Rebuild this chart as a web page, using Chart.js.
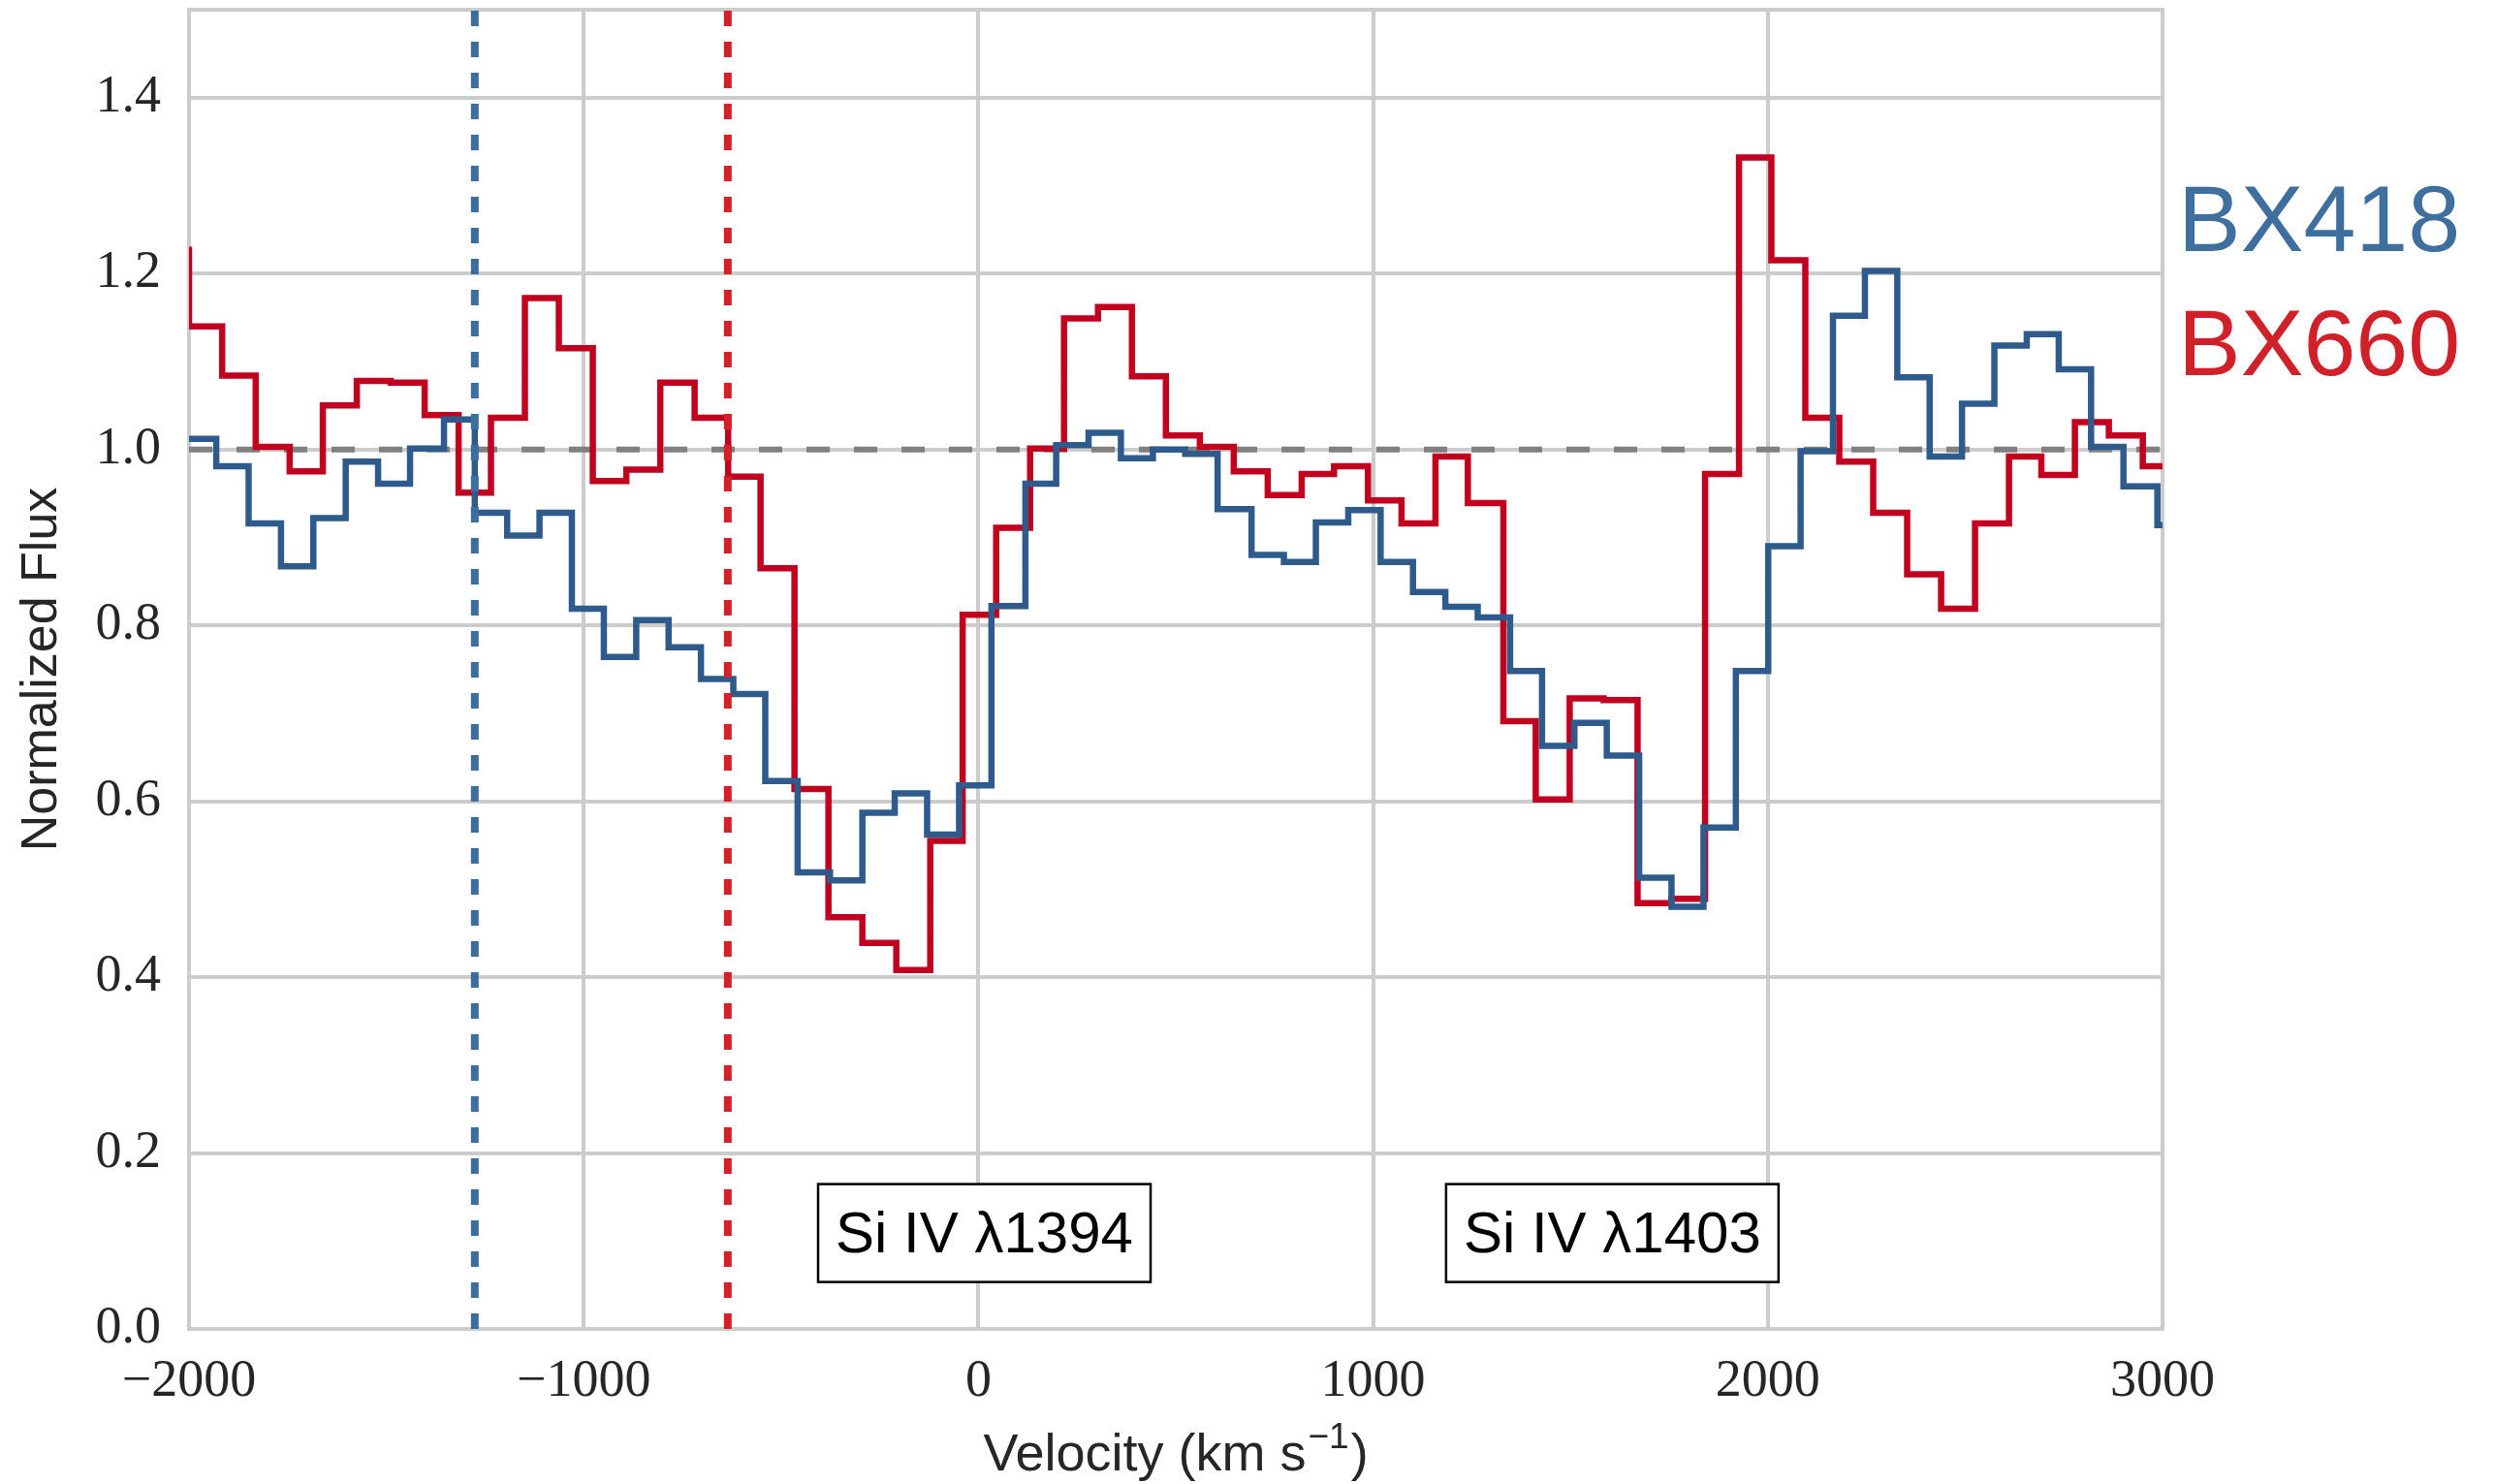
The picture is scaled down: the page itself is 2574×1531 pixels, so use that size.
<!DOCTYPE html>
<html>
<head>
<meta charset="utf-8">
<script src="https://cdn.jsdelivr.net/npm/chart.js@4.4.0/dist/chart.umd.min.js"></script>
<style>
  html, body { margin: 0; padding: 0; background: #fff; }
</style>
</head>
<body>
<canvas id="fluxChart" width="2574" height="1531"></canvas>
<script>
// ----------- DATA -----------
const xTicks = [-2000, -1000, 0, 1000, 2000, 3000];
const yTicks = [0, 0.2, 0.4, 0.6, 0.8, 1.0, 1.2, 1.4];
const seriesNames = ['BX418', 'BX660'];

// bin left edges (km/s), last entry is the right edge of the final bin
const bx418Edges = [-2013, -1931, -1849, -1767, -1685, -1603, -1521, -1440, -1354, -1276, -1194, -1112, -1030,
  -949, -867, -785, -703, -621, -540, -458, -376, -294, -212, -130, -49,
  33, 119, 197, 279, 361, 442, 524, 606, 692, 774, 855, 937,
  1019, 1101, 1183, 1265, 1347, 1428, 1510, 1592, 1674, 1756, 1837, 1919, 2001,
  2083, 2165, 2246, 2328, 2410, 2492, 2574, 2656, 2737, 2819, 2901, 2987, 3069];
const bx418Flux = [1.012, 0.981, 0.916, 0.867, 0.922, 0.986, 0.961, 1.001, 1.034, 0.928, 0.902, 0.928, 0.819,
  0.764, 0.806, 0.775, 0.739, 0.722, 0.623, 0.519, 0.510, 0.587, 0.609, 0.562, 0.618,
  0.822, 0.961, 1.005, 1.019, 0.990, 1.000, 0.995, 0.932, 0.880, 0.872, 0.917, 0.931,
  0.872, 0.838, 0.821, 0.809, 0.748, 0.663, 0.689, 0.652, 0.513, 0.480, 0.570, 0.748, 0.890,
  0.998, 1.152, 1.203, 1.082, 0.992, 1.052, 1.118, 1.131, 1.091, 1.003, 0.958, 0.914];

const bx660Edges = [-2086, -2000, -1916, -1831, -1745, -1661, -1575, -1489, -1403, -1317, -1235, -1149, -1063,
  -977, -892, -806, -719, -634, -552, -466, -380, -294, -208, -122, -40,
  45, 131, 217, 303, 389, 475, 561, 647, 733, 819, 901,
  987, 1072, 1158, 1240, 1330, 1412, 1498, 1584, 1670, 1756, 1841, 1927,
  2009, 2095, 2181, 2267, 2353, 2439, 2525, 2611, 2693, 2778, 2864, 2950, 3036];
const bx660Flux = [1.227, 1.140, 1.084, 1.003, 0.975, 1.050, 1.078, 1.076, 1.039, 0.951, 1.036, 1.172, 1.115,
  0.964, 0.977, 1.076, 1.036, 0.969, 0.865, 0.614, 0.468, 0.439, 0.408, 0.555, 0.812,
  0.911, 1.001, 1.149, 1.162, 1.083, 1.016, 1.003, 0.975, 0.948, 0.972, 0.981,
  0.942, 0.916, 0.992, 0.939, 0.691, 0.602, 0.717, 0.715, 0.484, 0.489, 0.972, 1.332,
  1.215, 1.036, 0.986, 0.928, 0.858, 0.819, 0.916, 0.992, 0.971, 1.031, 1.016, 0.981];

const systemicVel = [-1276, -635]; // BX418, BX660
const continuumLevel = 1.0;

const lineLabels = ['Si IV λ1394', 'Si IV λ1403'];
const lineLabelX = [15, 1606];
const lineLabelY = [0.109, 0.109];

// ----------- HELPERS -----------
function stepPoints(edges, flux) {
  return edges.map((x, i) => ({ x: x, y: i < flux.length ? flux[i] : flux[flux.length - 1] }));
}

const BLUE = '#2e5b8b';
const RED = '#c0001e';
const TEXT = '#262626';
const GRID = '#cccccc';

// titles, legend text, labelled boxes, frame
const extras = {
  id: 'extras',
  beforeDatasetsDraw(chart) {
    const { ctx, chartArea: a } = chart;
    ctx.save();
    ctx.strokeStyle = GRID;
    ctx.lineWidth = 4;
    ctx.strokeRect(a.left, a.top, a.right - a.left, a.bottom - a.top);
    ctx.restore();
  },
  afterDatasetsDraw(chart) {
    const { ctx, scales: { x, y } } = chart;
    ctx.save();
    // line label boxes
    ctx.font = '60px "Liberation Sans"';
    ctx.textAlign = 'center';
    ctx.textBaseline = 'middle';
    lineLabels.forEach((txt, i) => {
      const cx = x.getPixelForValue(lineLabelX[i]);
      const cy = y.getPixelForValue(lineLabelY[i]);
      const w = 343, h = 101;
      ctx.fillStyle = '#fff';
      ctx.fillRect(cx - w / 2, cy - h / 2, w, h);
      ctx.strokeStyle = '#000';
      ctx.lineWidth = 2.5;
      ctx.strokeRect(cx - w / 2, cy - h / 2, w, h);
      ctx.fillStyle = '#000';
      ctx.fillText(txt, cx, cy + 3);
    });
    ctx.restore();
  },
  afterDraw(chart) {
    const { ctx, chartArea: a } = chart;
    ctx.save();
    ctx.fillStyle = TEXT;

    // y title
    ctx.font = '52px "Liberation Sans"';
    ctx.textAlign = 'center';
    ctx.textBaseline = 'middle';
    ctx.translate(44, (a.top + a.bottom) / 2);
    ctx.rotate(-Math.PI / 2);
    ctx.fillText('Normalized Flux', 0, 0);
    ctx.setTransform(1, 0, 0, 1, 0, 0);

    // x title with superscript
    const main = 'Velocity (km s', sup = '\u22121', tail = ')';
    ctx.textBaseline = 'alphabetic';
    ctx.textAlign = 'left';
    ctx.font = '54px "Liberation Sans"';
    const wMain = ctx.measureText(main).width;
    const wTail = ctx.measureText(tail).width;
    ctx.font = '37px "Liberation Sans"';
    const wSup = ctx.measureText(sup).width;
    const total = wMain + wSup + wTail + 4;
    let px = (a.left + a.right) / 2 - total / 2;
    const base = 1517;
    ctx.font = '54px "Liberation Sans"';
    ctx.fillText(main, px, base);
    px += wMain + 2;
    ctx.font = '37px "Liberation Sans"';
    ctx.fillText(sup, px, base - 23);
    px += wSup + 2;
    ctx.font = '54px "Liberation Sans"';
    ctx.fillText(tail, px, base);

    // series names at right
    ctx.font = '97px "Liberation Sans"';
    ctx.fillStyle = '#3e6f9f';
    ctx.fillText(seriesNames[0], 2247, 259);
    ctx.fillStyle = '#d0202a';
    ctx.fillText(seriesNames[1], 2247, 387);
    ctx.restore();
  }
};

// ----------- CHART -----------
const ctx = document.getElementById('fluxChart').getContext('2d');
new Chart(ctx, {
  type: 'line',
  data: {
    datasets: [
      {
        label: 'BX418 systemic',
        data: [{ x: systemicVel[0], y: 0 }, { x: systemicVel[0], y: 1.5 }],
        borderColor: '#3b6e9e', borderWidth: 8, borderDash: [16, 16], order: 0
      },
      {
        label: 'BX660 systemic',
        data: [{ x: systemicVel[1], y: 0 }, { x: systemicVel[1], y: 1.5 }],
        borderColor: '#d42027', borderWidth: 8, borderDash: [16, 16], order: 0
      },
      {
        label: seriesNames[0],
        data: stepPoints(bx418Edges, bx418Flux),
        stepped: 'before', borderColor: BLUE, borderWidth: 6.5, order: 1
      },
      {
        label: seriesNames[1],
        data: stepPoints(bx660Edges, bx660Flux),
        stepped: 'before', borderColor: RED, borderWidth: 6.5, order: 2
      },
      {
        label: 'continuum',
        data: [{ x: -2000, y: continuumLevel }, { x: 3000, y: continuumLevel }],
        borderColor: '#808080', borderWidth: 6, borderDash: [24, 25], order: 3
      }
    ]
  },
  options: {
    responsive: false,
    animation: false,
    devicePixelRatio: 1,
    layout: { padding: { top: 10, right: 343, left: 0, bottom: 0 } },
    plugins: { legend: { display: false }, tooltip: { enabled: false } },
    elements: {
      point: { radius: 0 },
      line: { tension: 0, borderCapStyle: 'butt', fill: false }
    },
    scales: {
      x: {
        type: 'linear', min: -2000, max: 3000,
        afterBuildTicks: (axis) => { axis.ticks = xTicks.map(v => ({ value: v })); },
        afterFit: (axis) => { axis.height = 160; axis.paddingLeft = 0; axis.paddingRight = 0; },
        grid: { color: GRID, lineWidth: 4, drawTicks: false },
        border: { color: GRID, width: 4 },
        ticks: {
          padding: 22, autoSkip: false, maxRotation: 0, color: TEXT,
          font: { family: 'Liberation Serif', size: 54 },
          callback: (v) => v < 0 ? '\u2212' + Math.abs(v) : String(v)
        }
      },
      y: {
        type: 'linear', min: 0, max: 1.5,
        afterBuildTicks: (axis) => { axis.ticks = yTicks.map(v => ({ value: v })); },
        afterFit: (axis) => { axis.width = 195; axis.paddingTop = 0; axis.paddingBottom = 0; },
        grid: { color: GRID, lineWidth: 4, drawTicks: false },
        border: { color: GRID, width: 4 },
        ticks: {
          padding: 29, color: TEXT,
          font: { family: 'Liberation Serif', size: 54 },
          callback: (v) => Number(v).toFixed(1)
        }
      }
    }
  },
  plugins: [extras]
});
</script>
</body>
</html>
